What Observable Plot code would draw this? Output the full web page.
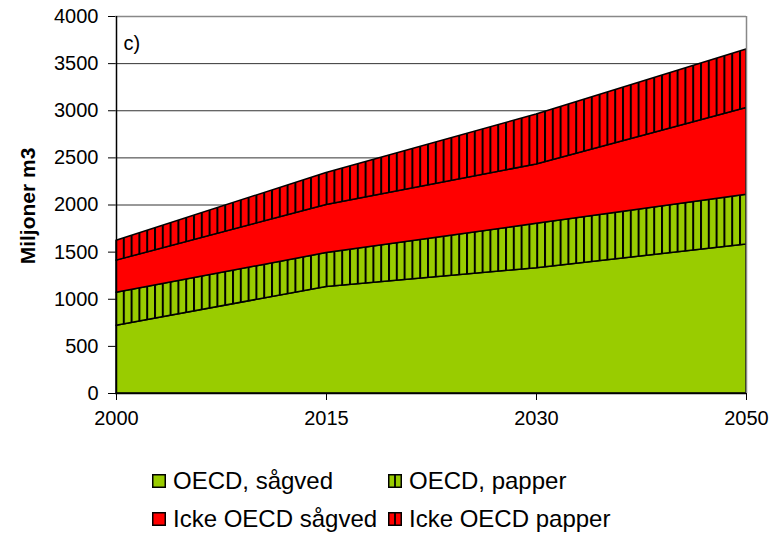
<!DOCTYPE html>
<html><head><meta charset="utf-8">
<script src="https://cdn.jsdelivr.net/npm/d3@7"></script>
<script src="https://cdn.jsdelivr.net/npm/@observablehq/plot@0.6"></script>
<style>
body{margin:0;background:#fff;font-family:"Liberation Sans",Arial,sans-serif;}
#wrap{position:relative;width:781px;height:534px;overflow:hidden;}
#wrap svg.plot{position:absolute;left:0;top:0;}
.leg{position:absolute;height:26px;font-size:24px;line-height:26px;display:flex;align-items:center;white-space:nowrap;color:#000;}
.leg svg{margin-right:7px;}
</style></head><body><div id="wrap"></div>
<script>
const years = ["2000", "2015", "2030", "2050"];
const series = ["OECD, sågved", "OECD, papper", "Icke OECD sågved", "Icke OECD papper"];
const oecdSagved = [720, 1130, 1330, 1580];
const oecdPapper = [350, 360, 470, 530];
const ickeSagved = [340, 510, 630, 920];
const ickePapper = [210, 340, 530, 620];
const yTicks = [0, 500, 1000, 1500, 2000, 2500, 3000, 3500, 4000];
const fills = ["#99cc00", "url(#hg)", "#ff0000", "url(#hr)"];

const valuesBySeries = [oecdSagved, oecdPapper, ickeSagved, ickePapper];
const data = [];
series.forEach((s, i) => years.forEach((yr, j) => data.push({series: s, year: yr, value: valuesBySeries[i][j]})));

const svg = Plot.plot({
  width: 781,
  height: 440,
  marginLeft: 115,
  marginRight: 35,
  marginTop: 16,
  marginBottom: 47,
  style: {fontFamily: "'Liberation Sans', Arial, sans-serif", background: "#fff", color: "#000"},
  x: {type: "point", domain: years, padding: 0},
  y: {domain: [0, 4000]},
  color: {type: "ordinal", domain: series, range: fills},
  marks: [
    Plot.gridY(yTicks, {stroke: "#333", strokeOpacity: 1, strokeWidth: 1}),
    Plot.areaY(data, {x: "year", y: "value", z: "series", fill: "series", stroke: "#000", strokeWidth: 1.5, strokeLinejoin: "round"}),
    Plot.ruleY([4000], {stroke: "#888", strokeWidth: 1.5}),
    Plot.ruleX(["2050"], {stroke: "#888", strokeWidth: 1.5}),
    Plot.ruleX(["2000"], {stroke: "#000", strokeWidth: 1.5}),
    Plot.ruleY([0], {stroke: "#000", strokeWidth: 1.5}),
    Plot.axisY(yTicks, {tickSize: 7, tickPadding: 10, fontSize: 20, label: null, stroke: "#000", tickFormat: d => String(d)}),
    Plot.axisX(years, {tickSize: 7, tickPadding: 10, fontSize: 20, label: null, stroke: "#000"}),
    Plot.text(["c)"], {frameAnchor: "top-left", dx: 8, dy: 19, fontSize: 20, textAnchor: "start"})
  ]
});

const defs = d3.select(svg).insert("defs", ":first-child");
function pat(id, color) {
  const p = defs.append("pattern").attr("id", id).attr("patternUnits", "userSpaceOnUse")
    .attr("x", 115).attr("y", 0).attr("width", 7.8).attr("height", 10);
  p.append("rect").attr("width", 7.8).attr("height", 10).attr("fill", color);
  p.append("rect").attr("x", 0).attr("width", 2).attr("height", 10).attr("fill", "#000");
}
pat("hg", "#99cc00");
pat("hr", "#ff0000");

d3.select(svg).append("text")
  .attr("transform", "translate(27,206) rotate(-90)")
  .attr("text-anchor", "middle")
  .attr("dominant-baseline", "central")
  .attr("font-size", 21)
  .attr("font-weight", "bold")
  .attr("fill", "#000")
  .text("Miljoner m3");

const wrap = document.getElementById("wrap");
wrap.appendChild(svg);

const legPos = [
  {left: 152, top: 468},
  {left: 388, top: 468},
  {left: 152, top: 506},
  {left: 388, top: 506}
];
const baseColors = ["#99cc00", "#99cc00", "#ff0000", "#ff0000"];
series.forEach((s, i) => {
  const d = document.createElement("div");
  d.className = "leg";
  d.style.left = legPos[i].left + "px";
  d.style.top = legPos[i].top + "px";
  const hatched = i % 2 === 1;
  d.innerHTML = `<svg width="14" height="14" viewBox="0 0 14 14"><rect x="0.75" y="0.75" width="12.5" height="12.5" fill="${baseColors[i]}" stroke="#000" stroke-width="1.5"/>${hatched ? '<rect x="6.1" y="0.75" width="1.8" height="12.5" fill="#000"/>' : ''}</svg><span>${s}</span>`;
  wrap.appendChild(d);
});
</script>
</body></html>
